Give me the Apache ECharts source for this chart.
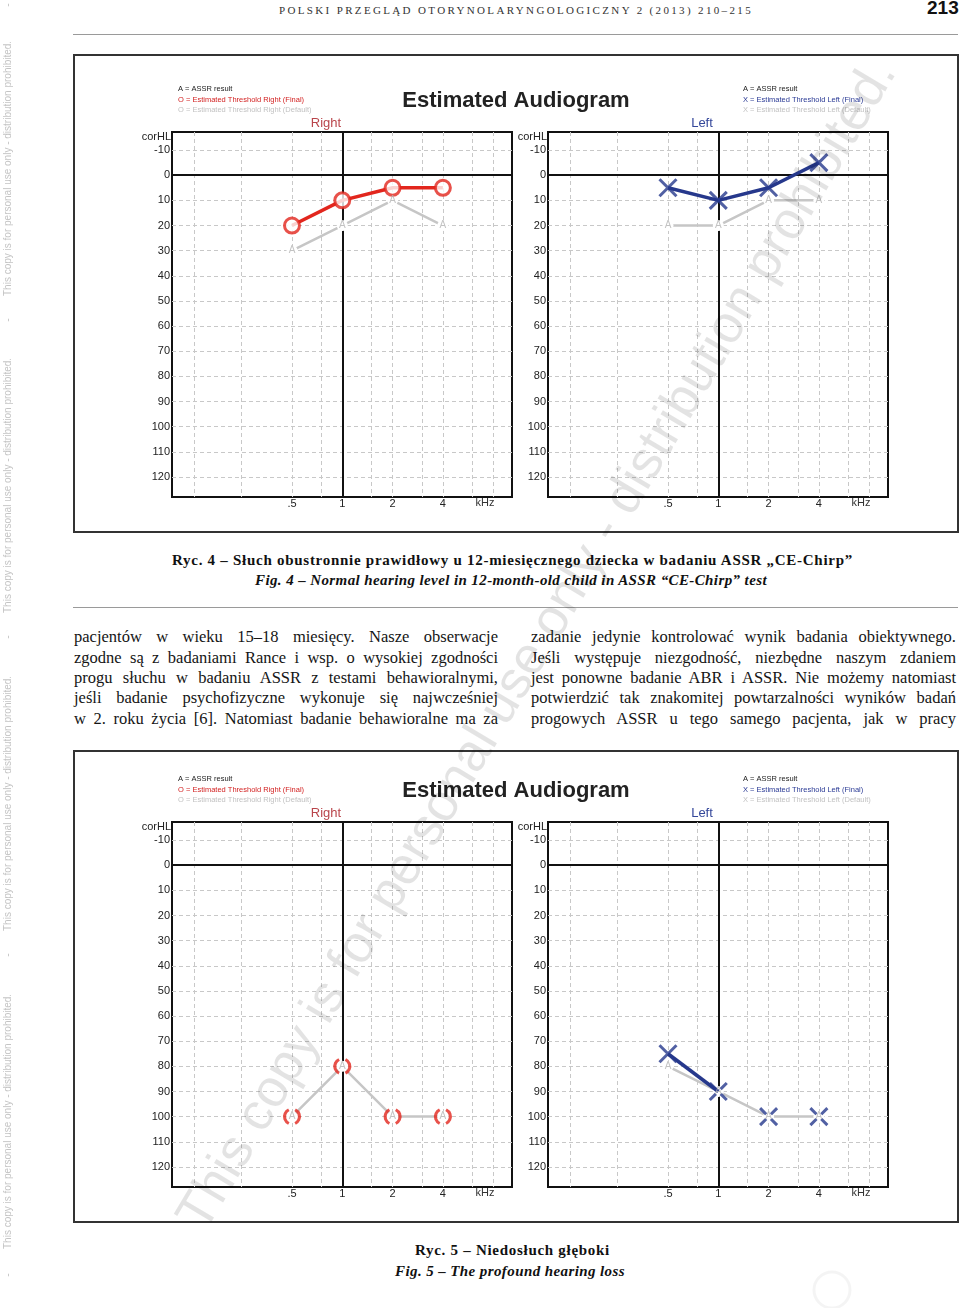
<!DOCTYPE html>
<html>
<head>
<meta charset="utf-8">
<script src="https://cdn.jsdelivr.net/npm/echarts@6/dist/echarts.min.js"></script>
<style>
html,body{margin:0;padding:0;background:#fff;}
#page{position:relative;width:960px;height:1308px;overflow:hidden;background:#fff;}
#chart{position:absolute;left:0;top:0;width:960px;height:1308px;z-index:2;}
.t{position:absolute;white-space:nowrap;color:#1a1a1a;z-index:1;}
.hdr{font:11px 'Liberation Serif',serif;color:#333;line-height:14px;}
.pg{font:bold 19px 'Liberation Sans Narrow','Liberation Sans',sans-serif;color:#111;line-height:20px;}
.cap{font:bold 15px 'Liberation Serif',serif;line-height:20px;color:#111;}
.capi{font:italic bold 15px 'Liberation Serif',serif;line-height:20px;color:#111;}
.body{position:absolute;z-index:1;font:16.5px 'Liberation Serif',serif;line-height:20px;color:#151515;text-align:justify;text-align-last:justify;}
.rule{position:absolute;left:73px;width:885px;height:1px;background:#9a9a9a;z-index:1;}
</style>
</head>
<body>
<div id="page">
  <span class="t hdr" id="hdr" style="left:279px;top:3px;">POLSKI PRZEGLĄD OTORYNOLARYNGOLOGICZNY 2 (2013) 210–215</span>
  <span class="t pg" style="left:927px;top:-2px;">213</span>
  <div class="rule" style="top:34px;"></div>

  <span class="t cap" id="cap4a" style="left:172px;top:550px;">Ryc. 4 – Słuch obustronnie prawidłowy u 12-miesięcznego dziecka w badaniu ASSR „CE-Chirp”</span>
  <span class="t capi" id="cap4b" style="left:255px;top:570px;">Fig. 4 – Normal hearing level in 12-month-old child in ASSR “CE-Chirp” test</span>
  <div class="rule" style="top:607px;"></div>

  <div class="body" style="left:74px;top:627px;width:424px;">pacjentów w wieku 15–18 miesięcy. Nasze obserwacje</div>
  <div class="body" style="left:74px;top:648px;width:424px;">zgodne są z badaniami Rance i wsp. o wysokiej zgodności</div>
  <div class="body" style="left:74px;top:668px;width:424px;">progu słuchu w badaniu ASSR z testami behawioralnymi,</div>
  <div class="body" style="left:74px;top:688px;width:424px;">jeśli badanie psychofizyczne wykonuje się najwcześniej</div>
  <div class="body" style="left:74px;top:709px;width:424px;">w 2. roku życia [6]. Natomiast badanie behawioralne ma za</div>

  <div class="body" style="left:531px;top:627px;width:425px;">zadanie jedynie kontrolować wynik badania obiektywnego.</div>
  <div class="body" style="left:531px;top:648px;width:425px;">Jeśli występuje niezgodność, niezbędne naszym zdaniem</div>
  <div class="body" style="left:531px;top:668px;width:425px;">jest ponowne badanie ABR i ASSR. Nie możemy natomiast</div>
  <div class="body" style="left:531px;top:688px;width:425px;">potwierdzić tak znakomitej powtarzalności wyników badań</div>
  <div class="body" style="left:531px;top:709px;width:425px;">progowych ASSR u tego samego pacjenta, jak w pracy</div>

  <span class="t cap" id="cap5a" style="left:415px;top:1240px;">Ryc. 5 – Niedosłuch głęboki</span>
  <span class="t capi" id="cap5b" style="left:395px;top:1261px;">Fig. 5 – The profound hearing loss</span>

  <div id="chart"></div>
</div>
<script>
// ---------------- DATA ----------------
const freqs = [0.5, 1, 2, 4];                      // kHz
const fig4RightFinal  = [20, 10, 5, 5];
const fig4RightAssr   = [30, 20, 10, 20];
const fig4RightNoResp = [false, false, false, false];
const fig4LeftFinal   = [5, 10, 5, -5];
const fig4LeftAssr    = [20, 20, 10, 10];
const fig4LeftNoResp  = [false, false, false, false];
const fig5RightFinal  = [100, 80, 100, 100];
const fig5RightAssr   = [100, 80, 100, 100];
const fig5RightNoResp = [true, true, true, true];
const fig5LeftFinal   = [75, 90, 100, 100];
const fig5LeftAssr    = [80, 90, 100, 100];
const fig5LeftNoResp  = [false, true, true, true];
const levelTicks = [-10, 0, 10, 20, 30, 40, 50, 60, 70, 80, 90, 100, 110, 120];
const freqTicks = [0.5, 1, 2, 4];
const freqTickLabels = ['.5', '1', '2', '4'];
const gridFreqs = [0.125, 0.25, 0.5, 0.75, 1.5, 2, 3, 4, 6, 8];
const gridLevels = [-10, 10, 20, 30, 40, 50, 60, 70, 80, 90, 100, 110, 120];
const WATERMARK = 'This copy is for personal use only - distribution prohibited.';

// ---------------- STYLE / LAYOUT ----------------
const RED = '#e2261d', BLUE = '#26388c', GRAY_LINE = '#c6c6c6', GRAY_A = '#b3b3b3';
const FONT = "'Liberation Sans', Arial, sans-serif";
const PLOT_W = 340, PLOT_H = 365;
const PLOT_LEFTS = [172, 548];
const FIG_DY = [0, 690];
const PLOT_TOP0 = 132;
const SYM = {
  circle:   { symbol: 'circle', size: 15 },
  circleNR: { symbol: 'path://M2.11,-4.53A5,5 0 0 1 2.11,4.53M-2.11,4.53A5,5 0 0 1 -2.11,-4.53', size: [15, 13.6] },
  cross:    { symbol: 'path://M0,0L10,10M10,0L0,10', size: 17 },
  crossNR:  { symbol: 'path://M0,0L3.6,3.6M10,0L6.4,3.6M0,10L3.6,6.4M10,10L6.4,6.4', size: 17 }
};

const panels = [
  { fig: 0, ear: 'right', final: fig4RightFinal, assr: fig4RightAssr, nr: fig4RightNoResp },
  { fig: 0, ear: 'left',  final: fig4LeftFinal,  assr: fig4LeftAssr,  nr: fig4LeftNoResp },
  { fig: 1, ear: 'right', final: fig5RightFinal, assr: fig5RightAssr, nr: fig5RightNoResp },
  { fig: 1, ear: 'left',  final: fig5LeftFinal,  assr: fig5LeftAssr,  nr: fig5LeftNoResp }
];

const grids = [], xAxes = [], yAxes = [], series = [];
const dashed = { type: [4, 3], color: '#c8c8c8', width: 1 };
const heavy = { type: 'solid', color: '#111', width: 2 };

panels.forEach((p, k) => {
  const isRight = p.ear === 'right';
  const color = isRight ? RED : BLUE;
  grids.push({
    left: PLOT_LEFTS[isRight ? 0 : 1], top: PLOT_TOP0 + FIG_DY[p.fig],
    width: PLOT_W, height: PLOT_H,
    show: true, backgroundColor: '#fff', borderColor: '#111', borderWidth: 2
  });
  xAxes.push({
    type: 'log', logBase: 2, gridIndex: k, min: 0.0957, max: 10.37,
    axisLine: { show: false }, axisTick: { show: false }, splitLine: { show: false },
    axisLabel: {
      customValues: freqTicks, margin: 1, color: '#222', fontSize: 11, fontFamily: FONT,
      formatter: v => { const i = freqTicks.indexOf(+v); return i >= 0 ? freqTickLabels[i] : ''; }
    }
  });
  yAxes.push({
    type: 'value', inverse: true, gridIndex: k, min: -17.2, max: 128,
    axisLine: { show: false }, axisTick: { show: false }, splitLine: { show: false },
    axisLabel: { customValues: levelTicks, margin: 2, color: '#222', fontSize: 11, fontFamily: FONT }
  });
  // ASSR (grey) line + grid lines
  series.push({
    name: 'ASSR', type: 'line', xAxisIndex: k, yAxisIndex: k, z: 2, silent: true, animation: false,
    data: freqs.map((f, i) => [f, p.assr[i]]),
    lineStyle: { color: GRAY_LINE, width: 2.5 },
    symbol: 'circle', symbolSize: 11, showSymbol: true,
    itemStyle: { color: '#fff', borderWidth: 0 },
    markLine: {
      z: 1, silent: true, animation: false, symbol: ['none', 'none'], label: { show: false },
      emphasis: { disabled: true },
      data: gridFreqs.map(f => ({ xAxis: f, lineStyle: dashed }))
        .concat(gridLevels.map(v => ({ yAxis: v, lineStyle: dashed })))
        .concat([{ xAxis: 1, lineStyle: heavy }, { yAxis: 0, lineStyle: heavy }])
    }
  });
  // Final threshold connecting line (segments start at responses)
  series.push({
    name: 'Final line', type: 'line', xAxisIndex: k, yAxisIndex: k, z: 3, silent: true, animation: false,
    data: freqs.map((f, i) => [f, (!p.nr[i] || (i > 0 && !p.nr[i - 1])) ? p.final[i] : '-']),
    connectNulls: false, symbol: 'none',
    lineStyle: { color: color, width: 3.5 }
  });
  // Final threshold markers
  series.push({
    name: 'Final', type: 'scatter', xAxisIndex: k, yAxisIndex: k, z: 4, silent: true, animation: false,
    data: freqs.map((f, i) => {
      const s = SYM[(isRight ? 'circle' : 'cross') + (p.nr[i] ? 'NR' : '')];
      return {
        value: [f, p.final[i]], symbol: s.symbol, symbolSize: s.size,
        itemStyle: { color: (isRight && !p.nr[i]) ? '#fff' : 'rgba(0,0,0,0)', borderColor: color, borderWidth: 3 }
      };
    })
  });
  // "A" letters
  series.push({
    name: 'A', type: 'scatter', xAxisIndex: k, yAxisIndex: k, z: 5, silent: true, animation: false,
    data: freqs.map((f, i) => [f, p.assr[i]]),
    symbolSize: 1, itemStyle: { color: 'rgba(0,0,0,0)' },
    label: { show: true, position: 'inside', formatter: 'A', color: GRAY_A, fontSize: 10, fontFamily: FONT }
  });
});

// ---------------- GRAPHIC TEXTS ----------------
function txt(x, y, text, font, fill, align, extra) {
  return Object.assign({
    type: 'text', x: x, y: y, silent: true, z: 10,
    style: { text: text, font: font, fill: fill, textAlign: align || 'left', align: align || 'left',
             textVerticalAlign: 'middle', verticalAlign: 'middle' }
  }, extra || {});
}
const graphics = [];
const boxes = [[55, 477], [751, 471]];
FIG_DY.forEach((dy, fi) => {
  graphics.push({ type: 'rect', silent: true, z: 0,
    shape: { x: 74, y: boxes[fi][0], width: 884, height: boxes[fi][1] },
    style: { fill: 'none', stroke: '#333', lineWidth: 2 } });
  graphics.push(txt(516, 101 + dy, 'Estimated Audiogram', 'bold 22px ' + FONT, '#222', 'center'));
  const lf = '7.5px ' + FONT;
  graphics.push(txt(178, 89 + dy, 'A = ASSR result', lf, '#222'));
  graphics.push(txt(178, 100 + dy, 'O = Estimated Threshold Right (Final)', lf, '#d32222'));
  graphics.push(txt(178, 110 + dy, 'O = Estimated Threshold Right (Default)', lf, '#c2c2c2'));
  graphics.push(txt(743, 89 + dy, 'A = ASSR result', lf, '#222'));
  graphics.push(txt(743, 100 + dy, 'X = Estimated Threshold Left (Final)', lf, '#2a3a95'));
  graphics.push(txt(743, 110 + dy, 'X = Estimated Threshold Left (Default)', lf, '#c2c2c2'));
  graphics.push(txt(326, 123 + dy, 'Right', '13px ' + FONT, '#b9454b', 'center'));
  graphics.push(txt(702, 123 + dy, 'Left', '13px ' + FONT, '#34479a', 'center'));
  graphics.push(txt(171, 137 + dy, 'corHL', '11px ' + FONT, '#222', 'right'));
  graphics.push(txt(547, 137 + dy, 'corHL', '11px ' + FONT, '#222', 'right'));
  graphics.push(txt(485, 503 + dy, 'kHz', '11px ' + FONT, '#333', 'center'));
  graphics.push(txt(861, 503 + dy, 'kHz', '11px ' + FONT, '#333', 'center'));
});
// vertical margin watermark
[296, 613, 931, 1249].forEach(y => {
  graphics.push(txt(8, y, WATERMARK, '10px ' + FONT, '#c4c4c4', 'left', { rotation: Math.PI / 2 }));
});
[5, 320, 637, 955, 1275].forEach(y => {
  graphics.push(txt(8, y, '-', '10px ' + FONT, '#c4c4c4', 'center', { rotation: Math.PI / 2 }));
});
// big diagonal watermark
graphics.push(txt(192, 1226, WATERMARK, '53px ' + FONT, 'rgba(0,0,0,0.11)', 'left',
  { rotation: 59.2 * Math.PI / 180, z: 100 }));
// faint logo ring
graphics.push({ type: 'circle', silent: true, z: 100, shape: { cx: 832, cy: 1290, r: 18 },
  style: { fill: 'none', stroke: 'rgba(0,0,0,0.045)', lineWidth: 3 } });

const chart = echarts.init(document.getElementById('chart'), null, { renderer: 'canvas', width: 960, height: 1308 });
chart.setOption({
  animation: false,
  backgroundColor: 'transparent',
  grid: grids, xAxis: xAxes, yAxis: yAxes, series: series,
  graphic: graphics
});

// ---------------- fit HTML headings to the reference widths ----------------
function fit(id, left, width) {
  const el = document.getElementById(id);
  el.style.letterSpacing = '0px';
  const w = el.getBoundingClientRect().width;
  const n = el.textContent.length;
  el.style.letterSpacing = ((width - w) / n) + 'px';
  el.style.left = left + 'px';
}
function fitAll() {
  fit('hdr', 279, 474);
  fit('cap4a', 172, 681);
  fit('cap4b', 255, 512);
  fit('cap5a', 415, 195);
  fit('cap5b', 395, 230);
}
fitAll();
if (document.fonts && document.fonts.ready) document.fonts.ready.then(fitAll);
</script>
</body>
</html>
